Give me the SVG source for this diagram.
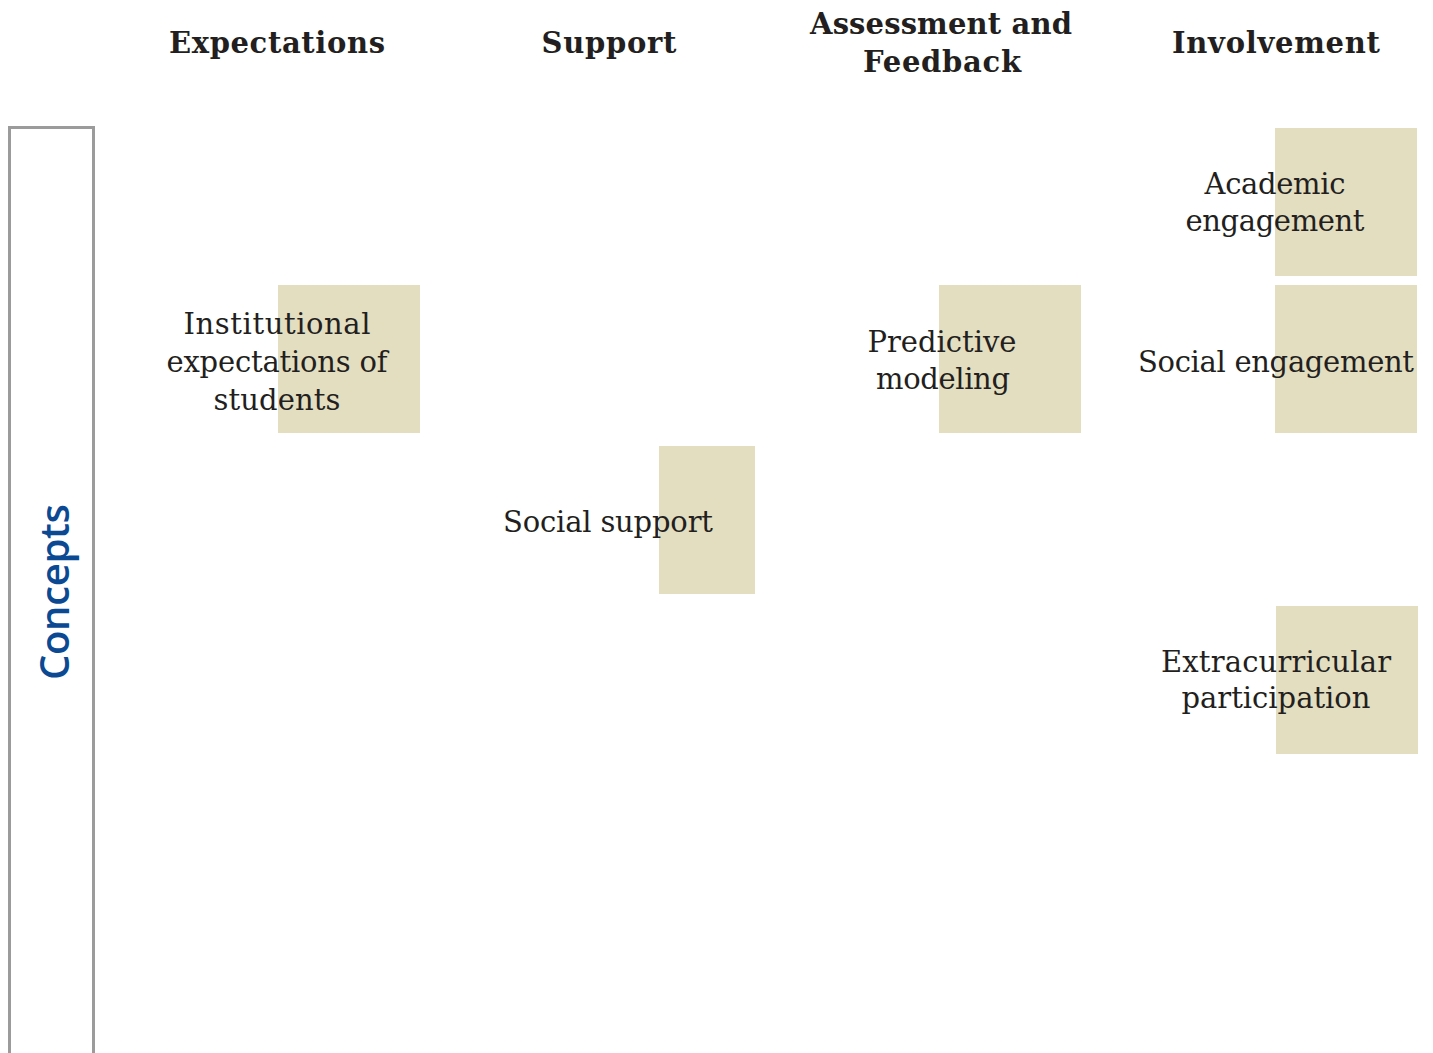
<svg xmlns="http://www.w3.org/2000/svg" width="1433" height="1053" viewBox="0 0 1433 1053">
  <style>
    .head { font-family: "DejaVu Serif", "Liberation Serif", serif; font-weight: bold; font-size: 29px; fill: #231f20; text-anchor: middle; }
    .label { font-family: "DejaVu Serif", "Liberation Serif", serif; font-size: 29px; fill: #231f20; text-anchor: middle; }
    .tile { fill: #e3dec0; }
    .band { fill: none; stroke: #9b9b9b; stroke-width: 3; }
    .band-title { font-family: "Open Sans", "Liberation Sans", sans-serif; font-weight: 600; font-size: 40px; fill: #0b4a93; text-anchor: middle; }
  </style>
  <rect width="1433" height="1053" fill="#ffffff"/>

  <!-- column headers -->
  <g id="headers">
    <text class="head" x="277" y="53" textLength="216">Expectations</text>
    <text class="head" x="609" y="53" textLength="135">Support</text>
    <text class="head" x="941" y="34" textLength="262">Assessment and</text>
    <text class="head" x="942" y="72" textLength="158">Feedback</text>
    <text class="head" x="1276" y="53" textLength="208">Involvement</text>
  </g>

  <!-- row band -->
  <g id="concepts-band">
    <rect class="band" x="9.5" y="127.5" width="84" height="960"/>
    <text class="band-title" transform="translate(69 592) rotate(-90)" textLength="176">Concepts</text>
  </g>

  <!-- connectors (none drawn) -->
  <g id="connectors"></g>

  <g id="node-institutional-expectations">
    <rect class="tile" x="278" y="285" width="142" height="148"/>
    <text class="label" x="277" y="334" textLength="187">Institutional</text>
    <text class="label" x="277" y="372" textLength="221">expectations of</text>
    <text class="label" x="277" y="410" textLength="127">students</text>
  </g>

  <g id="node-social-support">
    <rect class="tile" x="659" y="446" width="96" height="148"/>
    <text class="label" x="608" y="532" textLength="210">Social support</text>
  </g>

  <g id="node-predictive-modeling">
    <rect class="tile" x="939" y="285" width="142" height="148"/>
    <text class="label" x="942" y="352" textLength="149">Predictive</text>
    <text class="label" x="943" y="389" textLength="134">modeling</text>
  </g>

  <g id="node-academic-engagement">
    <rect class="tile" x="1275" y="128" width="142" height="148"/>
    <text class="label" x="1275" y="194" textLength="141">Academic</text>
    <text class="label" x="1275" y="231" textLength="179">engagement</text>
  </g>

  <g id="node-social-engagement">
    <rect class="tile" x="1275" y="285" width="142" height="148"/>
    <text class="label" x="1276" y="372" textLength="276">Social engagement</text>
  </g>

  <g id="node-extracurricular-participation">
    <rect class="tile" x="1276" y="606" width="142" height="148"/>
    <text class="label" x="1276" y="672" textLength="230">Extracurricular</text>
    <text class="label" x="1276" y="708" textLength="189">participation</text>
  </g>
</svg>
